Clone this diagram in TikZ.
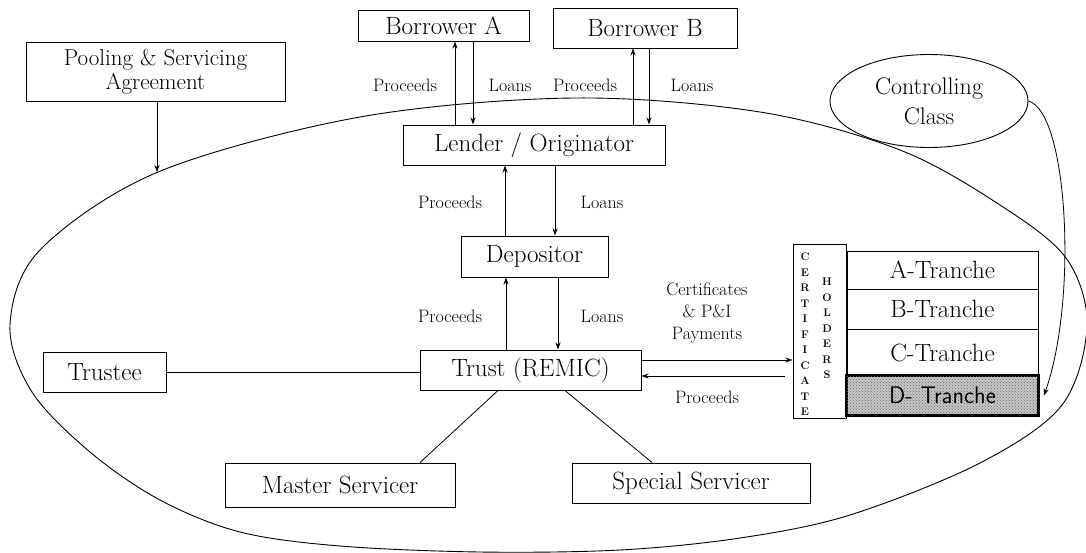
\documentclass[tikz,border=0pt]{standalone}
\usetikzlibrary{arrows.meta,calc,patterns,shapes.geometric}
\begin{document}
\begin{tikzpicture}[x=1pt,y=-1pt,
  box/.style={draw,line width=1pt,inner sep=0pt,font=\fontsize{25}{29}\selectfont},
  lbl/.style={inner sep=0pt,font=\fontsize{18}{22}\selectfont},
  arr/.style={-{Stealth[length=7pt,width=5pt]},line width=0.8pt},
  ln/.style={line width=0.8pt}]
\useasboundingbox (0,0) rectangle (1086,552);
% big ellipse
\draw[line width=0.9pt] plot[smooth cycle,tension=0.55] coordinates {
 (10,325) (40,250) (158,172) (360,117) (573,98) (760,112) (900,150)
 (1000,205) (1066,258) (1087,325) (1062,405) (980,463) (850,515) (740,538)
 (620,550) (480,552) (340,546) (240,532) (160,500) (90,452) (32,392)};
\coordinate (pooltip) at (157,172);
% nodes
\node[box,minimum width=259pt,minimum height=59pt,align=center,font=\fontsize{23}{24}\selectfont] (pool) at (155.5,71.5) {Pooling \& Servicing\\Agreement};
\node[box,minimum width=171pt,minimum height=31pt] (borA) at (443.5,25.5) {Borrower A};
\node[box,minimum width=184pt,minimum height=40pt] (borB) at (645,28) {Borrower B};
\node[box,minimum width=262pt,minimum height=40pt] (lender) at (534,145) {Lender / Originator};
\node[box,minimum width=147pt,minimum height=41pt] (dep) at (534.5,256.5) {Depositor};
\node[box,minimum width=221pt,minimum height=40pt] (trust) at (530.5,370) {Trust (REMIC)};
\node[box,minimum width=123pt,minimum height=40pt] (trustee) at (104.5,372) {Trustee};
\node[box,minimum width=230pt,minimum height=44pt] (master) at (340,485) {Master Servicer};
\node[box,minimum width=238pt,minimum height=40pt] (special) at (691,483) {Special Servicer};
\node[box,minimum width=53pt,minimum height=174pt] (cert) at (819.5,331) {};
\node[inner sep=0pt,align=center,font=\bfseries\fontsize{11}{15.5}\selectfont] (certtxt) at (805,334.5) {C\\E\\R\\T\\I\\F\\I\\C\\A\\T\\E};
\node[inner sep=0pt,align=center,font=\bfseries\fontsize{11}{15.5}\selectfont] (holdtxt) at (827,328.5) {H\\O\\L\\D\\E\\R\\S};
\node[box,minimum width=191pt,minimum height=38pt] (trA) at (942.5,270) {A-Tranche};
\node[box,minimum width=191pt,minimum height=40pt] (trB) at (942.5,309) {B-Tranche};
\node[box,minimum width=191pt,minimum height=47pt] (trC) at (942.5,352.5) {C-Tranche};
\node[box,line width=1.8pt,minimum width=191pt,minimum height=39pt,fill=gray!45] (trD) at (942.5,395.5) {};
\fill[pattern=crosshatch dots,pattern color=black!60] (trD.north west) rectangle (trD.south east);
\draw[line width=1.8pt] (trD.north west) rectangle (trD.south east);
\node[inner sep=0pt,font=\sffamily\fontsize{24}{28}\selectfont] (trDtxt) at (trD.center) {D- Tranche};
\node[draw,ellipse,line width=0.9pt,minimum width=198pt,minimum height=93pt,inner sep=0pt,
      align=center,font=\fontsize{24}{30}\selectfont] (ctrl) at (929,101) {Controlling\\Class};
% labels
\node[lbl] (l1) at (405,85) {Proceeds};
\node[lbl] (l2) at (510,85) {Loans};
\node[lbl] (l3) at (585,85) {Proceeds};
\node[lbl] (l4) at (692,85) {Loans};
\node[lbl] (l5) at (450,202) {Proceeds};
\node[lbl] (l6) at (602,202) {Loans};
\node[lbl] (l7) at (450,316) {Proceeds};
\node[lbl] (l8) at (602,316) {Loans};
\node[lbl,align=center,font=\fontsize{18}{22}\selectfont] (l9) at (707,313) {Certificates\\\& P\&I\\Payments};
\node[lbl] (l10) at (707,397) {Proceeds};
% connectors
\draw[arr] ([xshift=-79pt]lender.north) -- ([xshift=11.5pt]borA.south);
\draw[arr] ([xshift=29.5pt]borA.south) -- ([xshift=-61pt]lender.north);
\draw[arr] ([xshift=99pt]lender.north) -- ([xshift=-12pt]borB.south);
\draw[arr] ([xshift=4pt]borB.south) -- ([xshift=115pt]lender.north);
\draw[arr] ([xshift=-29.5pt]dep.north) -- ([xshift=-29pt]lender.south);
\draw[arr] ([xshift=21pt]lender.south) -- ([xshift=20.5pt]dep.north);
\draw[arr] ([xshift=-24.5pt]trust.north) -- ([xshift=-28.5pt]dep.south);
\draw[arr] ([xshift=23.5pt]dep.south) -- ([xshift=27.5pt]trust.north);
\coordinate (t1) at ([yshift=10pt]trust.east);
\coordinate (t2) at ([yshift=-6pt]trust.east);
\draw[arr] (t1) -- (t1 -| cert.west);
\draw[arr,shorten <=8pt] (t2 -| cert.west) -- (t2);
\draw[ln] (trustee.east) -- (trustee.east -| trust.west);
\draw[ln] ([xshift=80pt]master.north) -- ([xshift=-32.5pt]trust.south);
\draw[ln] ([xshift=-39pt]special.north) -- ([xshift=34.5pt]trust.south);
\draw[arr] ([xshift=1.5pt]pool.south) -- (pooltip);
\draw[arr] (ctrl.east) .. controls (1068,112) and (1078,300) .. ([xshift=5pt]trD.east);
\end{tikzpicture}
\end{document}
